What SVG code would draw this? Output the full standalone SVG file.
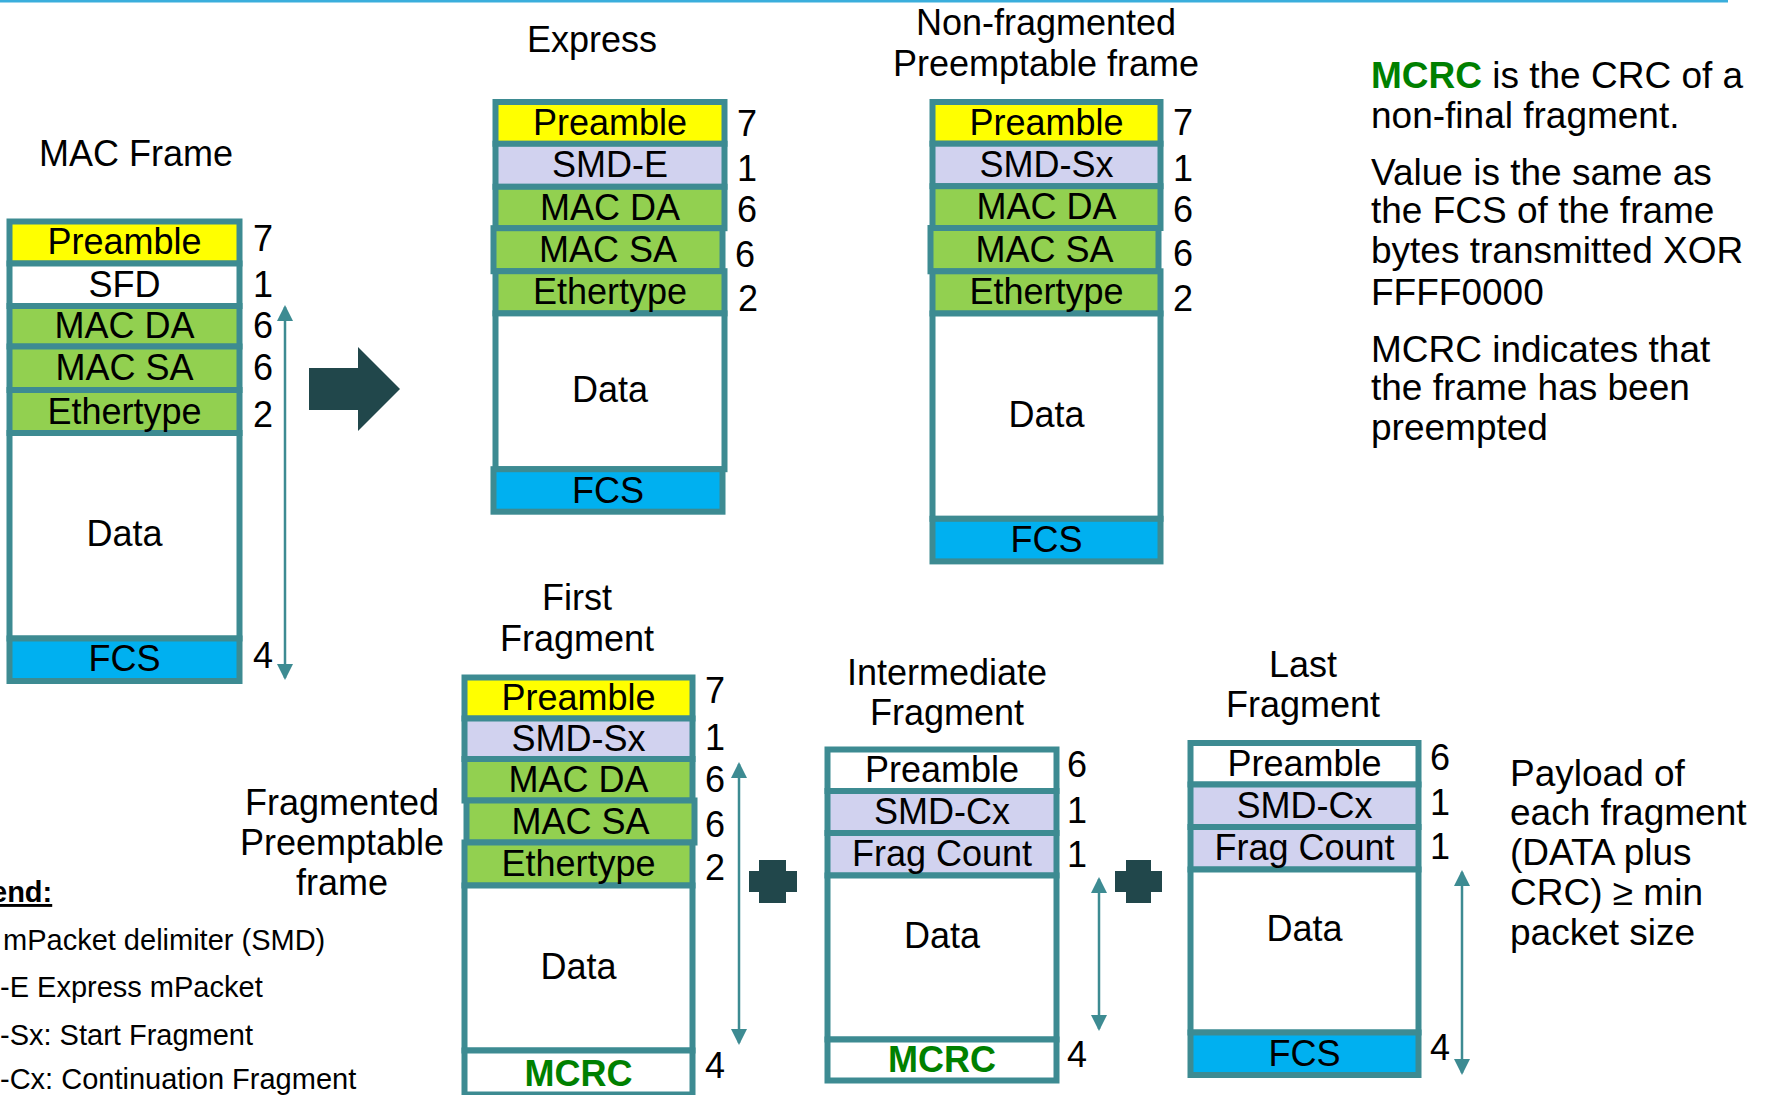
<svg xmlns="http://www.w3.org/2000/svg" width="1767" height="1095" viewBox="0 0 1767 1095">
<style>
text{font-family:"Liberation Sans",Arial,sans-serif;fill:#000;}
.t{font-size:36px;text-anchor:middle;}
.n{font-size:36px;}
.r{font-size:37px;}
.lg{font-size:29px;}
.c{stroke:#3d8b92;stroke-width:6;}
.y{fill:#ffff00;}
.w{fill:#ffffff;}
.g{fill:#92d050;}
.l{fill:#d1d2ef;}
.b{fill:#00b0f0;}
.mc{fill:#008000;font-weight:bold;}
.dim{stroke:#3d8b92;stroke-width:2.5;fill:none;marker-start:url(#ah);marker-end:url(#ah);}
.dk{fill:#21474b;}
</style>
<defs>
<marker id="ah" markerUnits="userSpaceOnUse" markerWidth="16" markerHeight="16" refX="14" refY="8" orient="auto-start-reverse" viewBox="0 0 16 16">
<path d="M0,0 L16,8 L0,16 Z" fill="#3d8b92"/>
</marker>
</defs>
<rect x="0" y="0" width="1728" height="2.5" fill="#3aaedc"/>

<g id="mac-frame">
<text class="t" x="136" y="166">MAC Frame</text>
<rect class="c y" x="9.5" y="221.5" width="230" height="42"/>
<rect class="c w" x="9.5" y="263.5" width="230" height="42.5"/>
<rect class="c g" x="9.5" y="306" width="230" height="40.5"/>
<rect class="c g" x="9.5" y="346.5" width="230" height="43.5"/>
<rect class="c g" x="9.5" y="390" width="230" height="43"/>
<rect class="c w" x="9.5" y="433" width="230" height="205.5"/>
<rect class="c b" x="9.5" y="638.5" width="230" height="42.5"/>
<text class="t" x="124.5" y="254">Preamble</text>
<text class="t" x="124.5" y="297">SFD</text>
<text class="t" x="124.5" y="338">MAC DA</text>
<text class="t" x="124.5" y="380">MAC SA</text>
<text class="t" x="124.5" y="424">Ethertype</text>
<text class="t" x="124.5" y="546">Data</text>
<text class="t" x="124.5" y="671">FCS</text>
<text class="n" x="253" y="251">7</text>
<text class="n" x="253" y="297">1</text>
<text class="n" x="253" y="338">6</text>
<text class="n" x="253" y="380">6</text>
<text class="n" x="253" y="427">2</text>
<text class="n" x="253" y="668">4</text>
</g>

<g id="express">
<text class="t" x="592" y="52">Express</text>
<rect class="c y" x="495.5" y="102" width="229" height="41.8"/>
<rect class="c l" x="495.5" y="143.8" width="229" height="43"/>
<rect class="c g" x="495.5" y="186.8" width="229" height="41.4"/>
<rect class="c g" x="493.5" y="228.2" width="229" height="43"/>
<rect class="c g" x="495.5" y="271.2" width="229" height="42.2"/>
<rect class="c w" x="495.5" y="313.4" width="229" height="155.8"/>
<rect class="c b" x="493.5" y="469.2" width="229" height="42.5"/>
<text class="t" x="610" y="135">Preamble</text>
<text class="t" x="610" y="177">SMD-E</text>
<text class="t" x="610" y="219.5">MAC DA</text>
<text class="t" x="608" y="262">MAC SA</text>
<text class="t" x="610" y="304">Ethertype</text>
<text class="t" x="610" y="402">Data</text>
<text class="t" x="608" y="502.5">FCS</text>
<text class="n" x="737" y="136">7</text>
<text class="n" x="737" y="181">1</text>
<text class="n" x="737" y="222">6</text>
<text class="n" x="735" y="267">6</text>
<text class="n" x="738" y="311">2</text>
</g>

<g id="non-fragmented">
<text class="t" x="1046" y="35">Non-fragmented</text>
<text class="t" x="1046" y="76">Preemptable frame</text>
<rect class="c y" x="932.5" y="102" width="228" height="41.7"/>
<rect class="c l" x="932.5" y="143.7" width="228" height="42.5"/>
<rect class="c g" x="932.5" y="186.2" width="228" height="41.8"/>
<rect class="c g" x="930.5" y="228" width="228" height="43.3"/>
<rect class="c g" x="932.5" y="271.3" width="228" height="42.2"/>
<rect class="c w" x="932.5" y="313.5" width="228" height="205.3"/>
<rect class="c b" x="932.5" y="518.8" width="228" height="42.6"/>
<text class="t" x="1046.5" y="135">Preamble</text>
<text class="t" x="1046.5" y="177">SMD-Sx</text>
<text class="t" x="1046.5" y="219">MAC DA</text>
<text class="t" x="1044.5" y="262">MAC SA</text>
<text class="t" x="1046.5" y="304">Ethertype</text>
<text class="t" x="1046.5" y="427">Data</text>
<text class="t" x="1046.5" y="552">FCS</text>
<text class="n" x="1173" y="135">7</text>
<text class="n" x="1173" y="181">1</text>
<text class="n" x="1173" y="222">6</text>
<text class="n" x="1173" y="266">6</text>
<text class="n" x="1173" y="311">2</text>
</g>

<g id="mcrc-note">
<text class="r" x="1371" y="88"><tspan class="mc">MCRC</tspan> is the CRC of a</text>
<text class="r" x="1371" y="128">non-final fragment.</text>
<text class="r" x="1371" y="185">Value is the same as</text>
<text class="r" x="1371" y="223">the FCS of the frame</text>
<text class="r" x="1371" y="263">bytes transmitted XOR</text>
<text class="r" x="1371" y="305">FFFF0000</text>
<text class="r" x="1371" y="362">MCRC indicates that</text>
<text class="r" x="1371" y="400">the frame has been</text>
<text class="r" x="1371" y="440">preempted</text>
</g>

<g id="fragmented-label">
<text class="t" x="342" y="815">Fragmented</text>
<text class="t" x="342" y="855">Preemptable</text>
<text class="t" x="342" y="895">frame</text>
</g>

<g id="legend">
<text class="lg" x="-9" y="902" font-weight="bold" text-decoration="underline">end:</text>
<text class="lg" x="3" y="950">mPacket delimiter (SMD)</text>
<text class="lg" x="0" y="997">-E Express mPacket</text>
<text class="lg" x="0" y="1045">-Sx: Start Fragment</text>
<text class="lg" x="0" y="1089">-Cx: Continuation Fragment</text>
</g>

<g id="first-fragment">
<text class="t" x="577" y="610">First</text>
<text class="t" x="577" y="651">Fragment</text>
<rect class="c y" x="464.5" y="677.5" width="228" height="41"/>
<rect class="c l" x="464.5" y="718.5" width="228" height="40.5"/>
<rect class="c g" x="464.5" y="759" width="228" height="41.5"/>
<rect class="c g" x="466.5" y="800.5" width="228" height="42"/>
<rect class="c g" x="464.5" y="842.5" width="228" height="43"/>
<rect class="c w" x="464.5" y="885.5" width="228" height="165"/>
<rect class="c w" x="464.5" y="1050.5" width="228" height="44"/>
<text class="t" x="578.5" y="710">Preamble</text>
<text class="t" x="578.5" y="751">SMD-Sx</text>
<text class="t" x="578.5" y="792">MAC DA</text>
<text class="t" x="580.5" y="834">MAC SA</text>
<text class="t" x="578.5" y="876">Ethertype</text>
<text class="t" x="578.5" y="979">Data</text>
<text class="t mc" x="578.5" y="1086">MCRC</text>
<text class="n" x="705" y="703">7</text>
<text class="n" x="705" y="750">1</text>
<text class="n" x="705" y="792">6</text>
<text class="n" x="705" y="837">6</text>
<text class="n" x="705" y="880">2</text>
<text class="n" x="705" y="1078">4</text>
</g>

<g id="intermediate-fragment">
<text class="t" x="947" y="685">Intermediate</text>
<text class="t" x="947" y="725">Fragment</text>
<rect class="c w" x="827.5" y="749.5" width="229" height="41.5"/>
<rect class="c l" x="827.5" y="791" width="229" height="42"/>
<rect class="c l" x="827.5" y="833" width="229" height="42.5"/>
<rect class="c w" x="827.5" y="875.5" width="229" height="164"/>
<rect class="c w" x="827.5" y="1039.5" width="229" height="41"/>
<text class="t" x="942" y="782">Preamble</text>
<text class="t" x="942" y="824">SMD-Cx</text>
<text class="t" x="942" y="866">Frag Count</text>
<text class="t" x="942" y="948">Data</text>
<text class="t mc" x="942" y="1072">MCRC</text>
<text class="n" x="1067" y="777">6</text>
<text class="n" x="1067" y="823">1</text>
<text class="n" x="1067" y="867">1</text>
<text class="n" x="1067" y="1067">4</text>
</g>

<g id="last-fragment">
<text class="t" x="1303" y="677">Last</text>
<text class="t" x="1303" y="717">Fragment</text>
<rect class="c w" x="1190.5" y="743" width="228" height="41.5"/>
<rect class="c l" x="1190.5" y="784.5" width="228" height="42.5"/>
<rect class="c l" x="1190.5" y="827" width="228" height="42.5"/>
<rect class="c w" x="1190.5" y="869.5" width="228" height="163"/>
<rect class="c b" x="1190.5" y="1032.5" width="228" height="42.5"/>
<text class="t" x="1304.5" y="776">Preamble</text>
<text class="t" x="1304.5" y="818">SMD-Cx</text>
<text class="t" x="1304.5" y="860">Frag Count</text>
<text class="t" x="1304.5" y="941">Data</text>
<text class="t" x="1304.5" y="1066">FCS</text>
<text class="n" x="1430" y="770">6</text>
<text class="n" x="1430" y="815">1</text>
<text class="n" x="1430" y="859">1</text>
<text class="n" x="1430" y="1060">4</text>
</g>

<g id="payload-note">
<text class="r" x="1510" y="786">Payload of</text>
<text class="r" x="1510" y="825">each fragment</text>
<text class="r" x="1510" y="865">(DATA plus</text>
<text class="r" x="1510" y="905">CRC) ≥ min</text>
<text class="r" x="1510" y="945">packet size</text>
</g>

<g id="connectors">
<line class="dim" x1="285" y1="307" x2="285" y2="678"/>
<line class="dim" x1="739" y1="764" x2="739" y2="1043"/>
<line class="dim" x1="1099" y1="879" x2="1099" y2="1029"/>
<line class="dim" x1="1462" y1="872" x2="1462" y2="1073"/>
<polygon class="dk" points="309,368 358,368 358,347 400,389 358,431 358,410 309,410"/>
<path class="dk" d="M759,860 H786 V871 H797 V892 H786 V903 H759 V892 H749 V871 H759 Z"/>
<path class="dk" d="M1126,860 H1151 V871 H1162 V892 H1151 V903 H1126 V892 H1115 V871 H1126 Z"/>
</g>
</svg>
